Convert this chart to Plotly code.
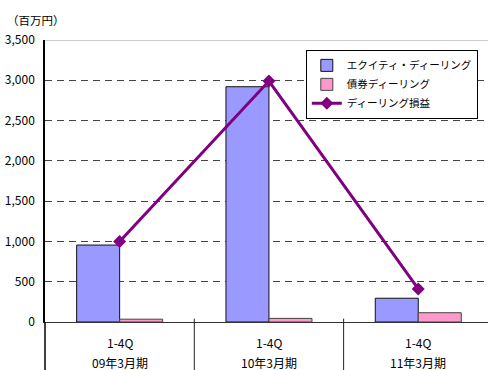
import plotly.graph_objects as go

# Dealing results by fiscal year (百万円)
periods = ["09年3月期", "10年3月期", "11年3月期"]
quarters = ["1-4Q", "1-4Q", "1-4Q"]
equity_dealing = [955, 2920, 295]
bond_dealing = [35, 45, 115]
dealing_profit = [1000, 2990, 410]

series_names = ["エクイティ・ディーリング", "債券ディーリング", "ディーリング損益"]
y_ticks = [0, 500, 1000, 1500, 2000, 2500, 3000, 3500]

FONT = "Noto Sans CJK JP, Noto Sans, sans-serif"
x_pos = list(range(len(periods)))

fig = go.Figure()
fig.add_trace(go.Bar(
    x=x_pos, y=equity_dealing, name=series_names[0],
    marker=dict(color="#9999FF", line=dict(color="#111111", width=1)),
))
fig.add_trace(go.Bar(
    x=x_pos, y=bond_dealing, name=series_names[1],
    marker=dict(color="#FF99CC", line=dict(color="#444444", width=1)),
))
fig.add_trace(go.Scatter(
    x=x_pos, y=dealing_profit, name=series_names[2], mode="lines+markers",
    line=dict(color="#800080", width=3),
    marker=dict(symbol="diamond", size=10, color="#800080"),
))

# Two-row category labels below the axis
for i, (q, p) in enumerate(zip(quarters, periods)):
    fig.add_annotation(x=i, y=-0.071, xref="x", yref="paper", text=q,
                       showarrow=False, yanchor="middle",
                       font=dict(family=FONT, size=12, color="#000"))
    fig.add_annotation(x=i, y=-0.142, xref="x", yref="paper", text=p,
                       showarrow=False, yanchor="middle",
                       font=dict(family=FONT, size=12, color="#000"))

# Category separators extending below the plot
for b in [0.5, 1.5]:
    fig.add_shape(type="line", xref="x", yref="paper", x0=b, x1=b,
                  y0=-0.18, y1=0.012, line=dict(color="#222", width=1))
# Left axis extension to the bottom
fig.add_shape(type="line", xref="paper", yref="paper", x0=0, x1=0,
              y0=-0.18, y1=0, line=dict(color="#000", width=1.5))
# Top border line
fig.add_shape(type="line", xref="paper", yref="y", x0=0, x1=1,
              y0=3500, y1=3500, line=dict(color="#999999", width=1))

fig.add_annotation(x=-0.09, y=1.071, xref="paper", yref="paper",
                   text="（百万円）", showarrow=False, xanchor="left",
                   yanchor="middle", font=dict(family=FONT, size=11.5, color="#000"))

fig.update_layout(
    width=488, height=370,
    margin=dict(l=45, r=0, t=40, b=48),
    paper_bgcolor="white", plot_bgcolor="white",
    barmode="group", bargap=0.424, bargroupgap=0,
    font=dict(family=FONT, size=11, color="#000"),
    showlegend=True,
    legend=dict(x=0.977, y=0.965, xanchor="right", yanchor="top",
                bgcolor="white", bordercolor="#000", borderwidth=1,
                font=dict(family=FONT, size=10.5, color="#000"),
                tracegroupgap=0, itemwidth=30),
    xaxis=dict(range=[-0.5, 2.467], autorange=False, showticklabels=False,
               ticks="", showgrid=False, zeroline=False, showline=True,
               linecolor="#333", linewidth=1),
    yaxis=dict(range=[0, 3500], autorange=False, tickvals=y_ticks,
               tickformat=",", showgrid=True, gridcolor="#444",
               griddash="7px,5px", gridwidth=1, zeroline=False,
               showline=True, linecolor="#000", linewidth=1.5,
               ticks="outside", ticklen=6, tickcolor="rgba(0,0,0,0)",
               tickfont=dict(family=FONT, size=12, color="#000")),
)

fig.write_html("out.html")
